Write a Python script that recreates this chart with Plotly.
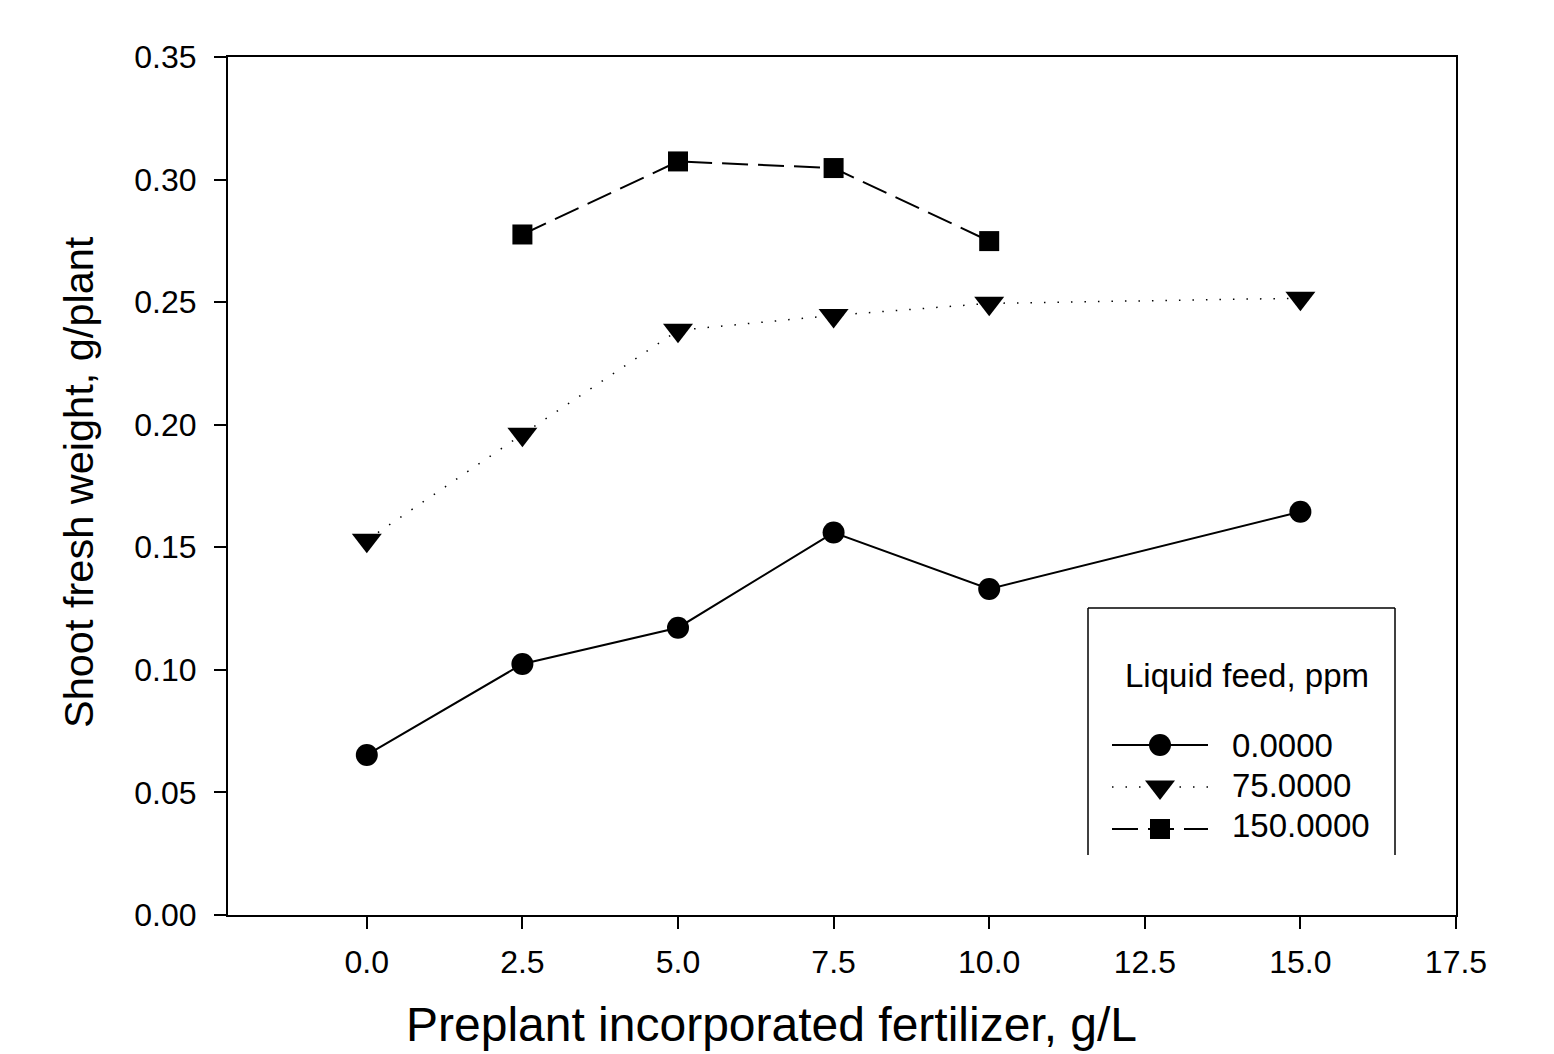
import plotly.graph_objects as go

# ---- data ----
x_circle = [0.0, 2.5, 5.0, 7.5, 10.0, 15.0]
y_circle = [0.0653, 0.1024, 0.1172, 0.1560, 0.1330, 0.1645]

x_tri = [0.0, 2.5, 5.0, 7.5, 10.0, 15.0]
y_tri = [0.1529, 0.1961, 0.2385, 0.2446, 0.2495, 0.2516]

x_sq = [2.5, 5.0, 7.5, 10.0]
y_sq = [0.2776, 0.3074, 0.3047, 0.2749]

legend_title = "Liquid feed, ppm"
legend_labels = ["0.0000", "75.0000", "150.0000"]

x_ticks = [0.0, 2.5, 5.0, 7.5, 10.0, 12.5, 15.0, 17.5]
y_ticks = [0.00, 0.05, 0.10, 0.15, 0.20, 0.25, 0.30, 0.35]

FONT = "Arial, Liberation Sans, sans-serif"

# plot area in reference pixels
L, R, T, B = 228, 1456, 57, 915
W, H = 1554, 1054
OFF = 8  # page body margin


def fx(px):
    return (px - L) / (R - L)


def fy(py):
    return (B - py) / (B - T)


fig = go.Figure()

styles = [
    dict(x=x_circle, y=y_circle, symbol="circle", size=22, dash="solid", width=2),
    dict(x=x_tri, y=y_tri, symbol="triangle-down", size=26, dash="1.5px,12px", width=1.5),
    dict(x=x_sq, y=y_sq, symbol="square", size=20, dash="26px,10px", width=2),
]

for s, name in zip(styles, legend_labels):
    fig.add_trace(go.Scatter(
        x=s["x"], y=s["y"], mode="lines+markers", name=name,
        line=dict(color="black", width=s["width"], dash=s["dash"]),
        marker=dict(symbol=s["symbol"], size=s["size"], color="black"),
        showlegend=False, cliponaxis=False,
    ))

# ---- custom legend (overlay axes in plot-fraction coordinates) ----
leg_rows = [745, 787, 829]
for s, py in zip(styles, leg_rows):
    fig.add_trace(go.Scatter(
        x=[fx(1112), fx(1208)], y=[fy(py), fy(py)], mode="lines",
        line=dict(color="black", width=s["width"], dash=s["dash"]),
        xaxis="x2", yaxis="y2", showlegend=False, hoverinfo="skip",
    ))
    fig.add_trace(go.Scatter(
        x=[fx(1160)], y=[fy(py)], mode="markers",
        marker=dict(symbol=s["symbol"], size=s["size"], color="black"),
        xaxis="x2", yaxis="y2", showlegend=False, hoverinfo="skip",
    ))

shapes = [
    dict(type="line", xref="x2", yref="y2", x0=fx(1088), x1=fx(1088), y0=fy(608), y1=fy(855),
         line=dict(color="black", width=1.5)),
    dict(type="line", xref="x2", yref="y2", x0=fx(1088), x1=fx(1395), y0=fy(608), y1=fy(608),
         line=dict(color="black", width=1.5)),
    dict(type="line", xref="x2", yref="y2", x0=fx(1395), x1=fx(1395), y0=fy(608), y1=fy(855),
         line=dict(color="black", width=1.5)),
]

annotations = [
    dict(text=legend_title, xref="x2", yref="y2", x=fx(1247), y=fy(675),
         xanchor="center", yanchor="middle", showarrow=False,
         font=dict(family=FONT, size=33, color="black")),
]
text_rows = [745, 785, 825]
for lab, py in zip(legend_labels, text_rows):
    annotations.append(dict(text=lab, xref="x2", yref="y2", x=fx(1230), y=fy(py),
                            xanchor="left", yanchor="middle", showarrow=False,
                            font=dict(family=FONT, size=33, color="black")))

# axis titles
annotations.append(dict(text="Preplant incorporated fertilizer, g/L", xref="paper", yref="paper",
                        x=fx(771), y=fy(1024), xanchor="center", yanchor="middle",
                        showarrow=False, font=dict(family=FONT, size=48, color="black")))
annotations.append(dict(text="Shoot fresh weight, g/plant", xref="paper", yref="paper",
                        x=fx(78), y=fy(482), xanchor="center", yanchor="middle", textangle=-90,
                        showarrow=False, font=dict(family=FONT, size=41.5, color="black")))

fig.update_layout(
    width=W - OFF, height=H - OFF,
    margin=dict(l=L - OFF, r=W - R, t=T - OFF, b=H - B),
    paper_bgcolor="white", plot_bgcolor="white",
    font=dict(family=FONT, size=32, color="black"),
    shapes=shapes, annotations=annotations,
    xaxis=dict(range=[-2.23, 17.5], tickvals=x_ticks, ticktext=[f"{v:.1f}" for v in x_ticks],
               showline=True, linecolor="black", linewidth=2, mirror=True,
               ticks="outside", ticklen=12, tickwidth=2, tickcolor="black",
               showgrid=False, zeroline=False, ticklabelstandoff=6,
               tickfont=dict(family=FONT, size=32, color="black")),
    yaxis=dict(range=[0, 0.35], tickvals=y_ticks, ticktext=[f"{v:.2f}" for v in y_ticks],
               showline=True, linecolor="black", linewidth=2, mirror=True,
               ticks="outside", ticklen=12, tickwidth=2, tickcolor="black",
               showgrid=False, zeroline=False, ticklabelstandoff=11,
               tickfont=dict(family=FONT, size=32, color="black")),
    xaxis2=dict(range=[0, 1], overlaying="x", anchor="y2", visible=False, fixedrange=True),
    yaxis2=dict(range=[0, 1], overlaying="y", anchor="x2", visible=False, fixedrange=True),
    showlegend=False,
)

fig.write_html("out.html")
